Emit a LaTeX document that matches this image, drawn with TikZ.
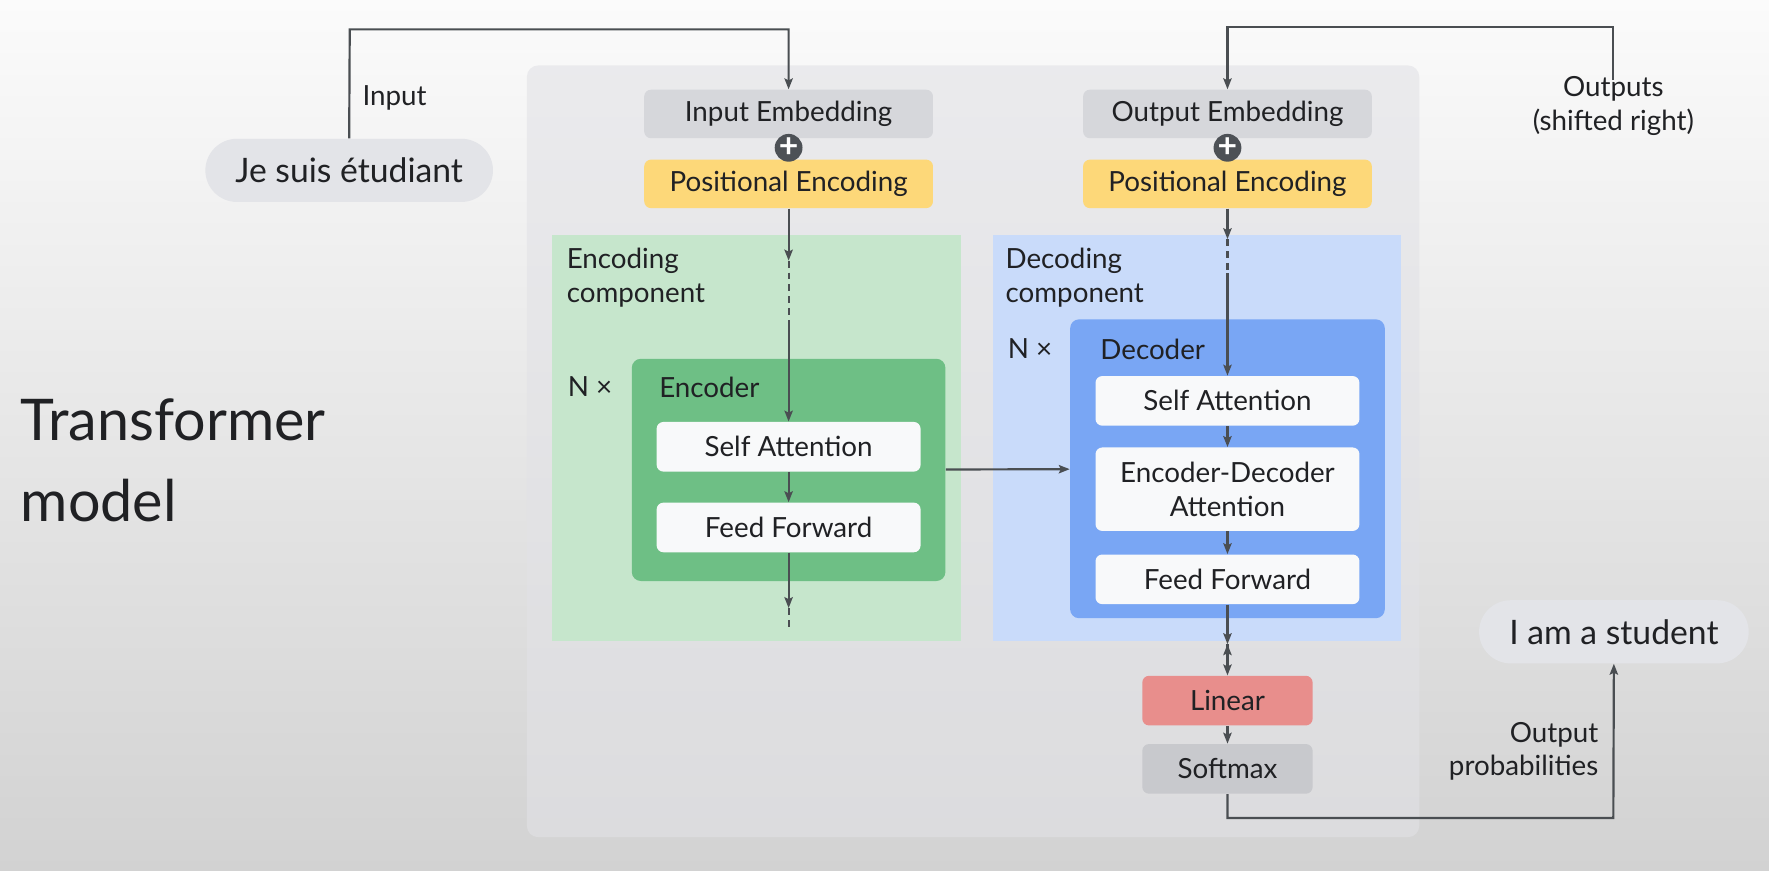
\documentclass[tikz,border=0pt]{standalone}
\usepackage{fontspec}
\setmainfont{Lato}
\usetikzlibrary{arrows,arrows.meta}

\definecolor{ink}{HTML}{202124}
\definecolor{wire}{HTML}{4A4E52}
\definecolor{bgtop}{HTML}{FBFBFB}
\definecolor{bgmid}{HTML}{F8F8F8}
\definecolor{bgbot}{HTML}{D2D2D2}
\definecolor{panel}{HTML}{E2E2E6}
\definecolor{embgrey}{HTML}{D6D7DB}
\definecolor{pillgrey}{HTML}{E3E4E8}
\definecolor{peyellow}{HTML}{FDD879}
\definecolor{encout}{HTML}{C6E6CC}
\definecolor{encin}{HTML}{6EBF85}
\definecolor{decout}{HTML}{C9DBFA}
\definecolor{decin}{HTML}{79A6F4}
\definecolor{boxwhite}{HTML}{F8F9FA}
\definecolor{linred}{HTML}{E88E8C}
\definecolor{smgrey}{HTML}{C8C9CD}
\definecolor{plusdark}{HTML}{4D5156}

\begin{document}
\begin{tikzpicture}[>={Stealth[length=5.5pt,width=4.2pt,inset=1pt]}, x=0.02cm, y=-0.02cm, node distance=1.24cm,
    font=\fontsize{14}{17}\selectfont, text=ink]
			\tikzstyle{box} = [rounded corners=0.12cm, inner sep=0pt, minimum width=5.12cm, minimum height=0.86cm]
			\tikzstyle{layer} = [box, fill=boxwhite, minimum width=4.68cm, minimum height=0.88cm]
			\tikzstyle{block} = [rounded corners=0.16cm, inner sep=0pt]
			\tikzstyle{pill} = [rounded corners=0.56cm, inner sep=0pt, minimum height=1.12cm, fill=pillgrey, font=\fontsize{17}{20}\selectfont]
			\tikzstyle{lbl} = [inner sep=0pt, align=left]
			\tikzstyle{wire} = [line width=1.1pt, draw=wire]
			\tikzstyle{gap} = [wire, dash pattern=on 3.5pt off 2.5pt]

			\useasboundingbox (0,0) rectangle (1568,772);
			\shade[top color=bgtop, middle color=bgmid, bottom color=bgbot] (0,0) rectangle (1568,772);

			% panels
			\fill[panel, opacity=0.6, rounded corners=0.2cm] (467,58) rectangle (1258,742);
			\fill[encout] (489,208) rectangle (852,568);
			\fill[decout] (880,208) rectangle (1242,568);

			\node[lbl, anchor=west, font=\fontsize{29}{41}\selectfont] (title) at (18,408) {Transformer\\model};

			% input side
			\node[pill, minimum width=5.1cm] (je) at (309.5,151) {Je suis étudiant};
			\node[lbl, anchor=west] (inlbl) at (321,87) {Input};
			\node[box, fill=embgrey] (ie) at (699,101) {Input Embedding};
			\node[box, fill=peyellow, below of=ie] (pe1) {Positional Encoding};
			\node[circle, fill=plusdark, minimum size=0.46cm, inner sep=0pt, text=white,
			  font=\fontsize{17}{17}\bfseries\selectfont, below of=ie, node distance=0.6cm] (plus1) {+};

			\node[lbl, anchor=west] (enccomp) at (502,246) {Encoding\\component};
			\node[block, fill=encin, minimum width=5.56cm, minimum height=3.94cm] (enc) at (699,416.5) {};
			\node[lbl] (n1) at (523,343) {N ×};
			\node[lbl, anchor=west] (enclbl) at (584,343) {Encoder};
			\node[layer] (sa1) at (699,396) {Self Attention};
			\node[layer] (ff1) at (699,467.5) {Feed Forward};

			% output side
			\node[lbl, align=center] (outlbl) at (1430,94) {Outputs\\(shifted right)};
			\node[box, fill=embgrey] (oe) at (1088,101) {Output Embedding};
			\node[box, fill=peyellow, below of=oe] (pe2) {Positional Encoding};
			\node[circle, fill=plusdark, minimum size=0.46cm, inner sep=0pt, text=white,
			  font=\fontsize{17}{17}\bfseries\selectfont, below of=oe, node distance=0.6cm] (plus2) {+};

			\node[lbl, anchor=west] (deccomp) at (891,246) {Decoding\\component};
			\node[block, fill=decin, minimum width=5.58cm, minimum height=5.3cm] (dec) at (1088,415.5) {};
			\node[lbl] (n2) at (913,309) {N ×};
			\node[lbl, anchor=west] (declbl) at (975,309.6) {Decoder};
			\node[layer] (sa2) at (1088,355.3) {Self Attention};
			\node[layer, minimum height=1.48cm, align=center] (eda) at (1088,433.6) {Encoder-Decoder\\Attention};
			\node[layer] (ff2) at (1088,513.5) {Feed Forward};

			\node[box, fill=linred, minimum width=3.02cm, minimum height=0.88cm] (lin) at (1088,621) {Linear};
			\node[box, fill=smgrey, minimum width=3.02cm, minimum height=0.88cm] (sm) at (1088,681.5) {Softmax};

			\node[pill, minimum width=4.78cm] (st) at (1430.5,560) {I am a student};
			\node[lbl, anchor=east, align=right] (prob) at (1417,666) {Output\\probabilities};

			% connectors
			\coordinate (intop) at (310,26);
			\coordinate (outtop) at (1430,24);
			\coordinate (e1) at (699,231);
			\coordinate (e2) at (699,285);
			\coordinate (e3) at (699,539);
			\coordinate (e4) at (699,558);
			\coordinate (d1) at (1088,212);
			\coordinate (d2) at (1088,242);
			\coordinate (d3) at (1088,571);
			\coordinate (pc) at (1430,725);

			\draw[wire, ->] (je.north) -- (intop) -| (ie.north);
			\draw[wire, ->] ([yshift=-2pt]outlbl.north) -- (outtop) -| (oe.north);
			\draw[wire, ->] (sm.south) |- (pc) -- (st.south);
			\draw[gap] (e1) -- (e2);
			\draw[gap] (e3) -- (e4);
			\draw[gap] (d1) -- (d2);

			\path[->, wire]
			(pe1) edge (e1)
			(e2) edge (sa1)
			(sa1) edge (ff1)
			(ff1) edge (e3)
			(enc) edge (dec)
			(pe2) edge (d1)
			(d2) edge (sa2)
			(sa2) edge (eda)
			(eda) edge (ff2)
			(ff2) edge (d3)
			(d3) edge (lin)
			(lin) edge (sm)
			;
\end{tikzpicture}
\end{document}
